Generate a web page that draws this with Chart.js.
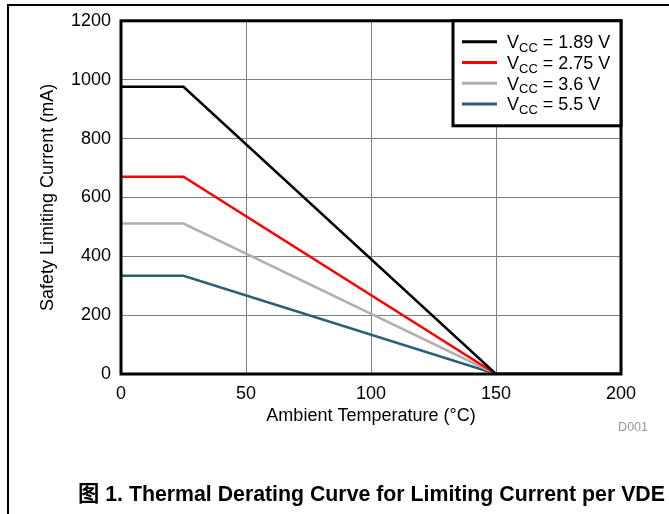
<!DOCTYPE html>
<html>
<head>
<meta charset="utf-8">
<script src="https://cdn.jsdelivr.net/npm/chart.js@4/dist/chart.umd.min.js"></script>
<style>
  body { margin: 0; background: #fff; }
  #wrap { position: relative; width: 669px; height: 514px; overflow: hidden; }
  #chart { position: absolute; left: 0; top: 0; }
  .frame-top { position: absolute; left: 7px; top: 4px; width: 662px; height: 1.5px; background: #000; }
  .frame-left { position: absolute; left: 7px; top: 4px; width: 1.5px; height: 510px; background: #000; }
  #caption { position: absolute; left: 78px; top: 484px; font: bold 21.3px "Liberation Sans", Arial, "Noto Sans CJK SC", sans-serif; line-height: 21px; color: #000; white-space: nowrap; }
  #tag { position: absolute; right: 21px; top: 420px; font: 12.5px "Liberation Sans", Arial, sans-serif; color: #999; }
</style>
</head>
<body>
<div id="wrap">
  <canvas id="chart" width="669" height="514"></canvas>
  <div class="frame-top"></div>
  <div class="frame-left"></div>
  <div id="tag">D001</div>
  <div id="caption">图 1. Thermal Derating Curve for Limiting Current per VDE</div>
</div>
<script>
  // values
  const temperatures = [0, 25, 150, 200];
  const current_189 = [976, 976, 0, 0];
  const current_275 = [670, 670, 0, 0];
  const current_36 = [511, 511, 0, 0];
  const current_55 = [334, 334, 0, 0];
  const supply_labels = ['1.89 V', '2.75 V', '3.6 V', '5.5 V'];
  const line_colors = ['#000000', '#ff0000', '#b0b0b0', '#2b5f78'];
  const x_ticks = [0, 50, 100, 150, 200];
  const y_ticks = [0, 200, 400, 600, 800, 1000, 1200];

  const FONT = '"Liberation Sans", Arial, sans-serif';

  function points(values) {
    return temperatures.map((t, i) => ({ x: t, y: values[i] }));
  }

  const series = [current_189, current_275, current_36, current_55];

  // box around plot + VCC legend with subscript
  const frame_plugin = {
    id: 'frame',
    afterDraw(chart) {
      const ctx = chart.ctx;
      const a = chart.chartArea;
      ctx.save();
      ctx.strokeStyle = '#000';
      ctx.lineWidth = 3;
      ctx.strokeRect(a.left, a.top, a.right - a.left, a.bottom - a.top);

      const bx = 453, by = a.top, bw = a.right - 453, bh = 105;
      ctx.fillStyle = '#fff';
      ctx.fillRect(bx, by, bw, bh);
      ctx.strokeRect(bx, by, bw, bh);

      supply_labels.forEach((lab, i) => {
        const cy = by + 21 + i * 20.7;
        ctx.strokeStyle = line_colors[i];
        ctx.lineWidth = 3;
        ctx.beginPath();
        ctx.moveTo(462, cy);
        ctx.lineTo(497, cy);
        ctx.stroke();

        ctx.fillStyle = '#000';
        ctx.textBaseline = 'alphabetic';
        ctx.textAlign = 'left';
        let x = 507;
        const base = cy + 6.5;
        ctx.font = '18px ' + FONT;
        ctx.fillText('V', x, base);
        x += ctx.measureText('V').width;
        ctx.font = '13px ' + FONT;
        ctx.fillText('CC', x, base + 3.5);
        x += ctx.measureText('CC').width;
        ctx.font = '18px ' + FONT;
        ctx.fillText(' = ' + lab, x, base);
      });
      ctx.restore();
    }
  };

  new Chart(document.getElementById('chart'), {
    type: 'line',
    data: {
      datasets: series.map((vals, i) => ({
        label: 'VCC = ' + supply_labels[i],
        data: points(vals),
        borderColor: line_colors[i],
        borderWidth: 2.5,
        pointRadius: 0,
        tension: 0
      }))
    },
    options: {
      responsive: false,
      animation: false,
      devicePixelRatio: 1,
      layout: { padding: { left: 0, top: 20, right: 48, bottom: 87 } },
      plugins: { legend: { display: false }, tooltip: { enabled: false } },
      scales: {
        x: {
          type: 'linear',
          min: 0, max: 200,
          afterBuildTicks: (s) => { s.ticks = x_ticks.map(v => ({ value: v })); },
          afterFit: (s) => { s.height = 53; },
          grid: { color: '#808080', lineWidth: 1, drawTicks: false },
          border: { display: false },
          ticks: { padding: 9, color: '#000', font: { family: FONT, size: 18 }, callback: v => String(v) },
          title: { display: true, text: 'Ambient Temperature (°C)', color: '#000', font: { family: FONT, size: 18 }, padding: 0 }
        },
        y: {
          min: 0, max: 1200,
          afterBuildTicks: (s) => { s.ticks = y_ticks.map(v => ({ value: v })); },
          afterFit: (s) => { s.width = 121; },
          grid: { color: '#808080', lineWidth: 1, drawTicks: false },
          border: { display: false },
          ticks: { padding: 10, color: '#000', font: { family: FONT, size: 18 }, callback: v => String(v) },
          title: { display: true, text: 'Safety Limiting Current (mA)', color: '#000', font: { family: FONT, size: 18 }, padding: { top: 37, bottom: 0 } }
        }
      }
    },
    plugins: [frame_plugin]
  });
</script>
</body>
</html>
